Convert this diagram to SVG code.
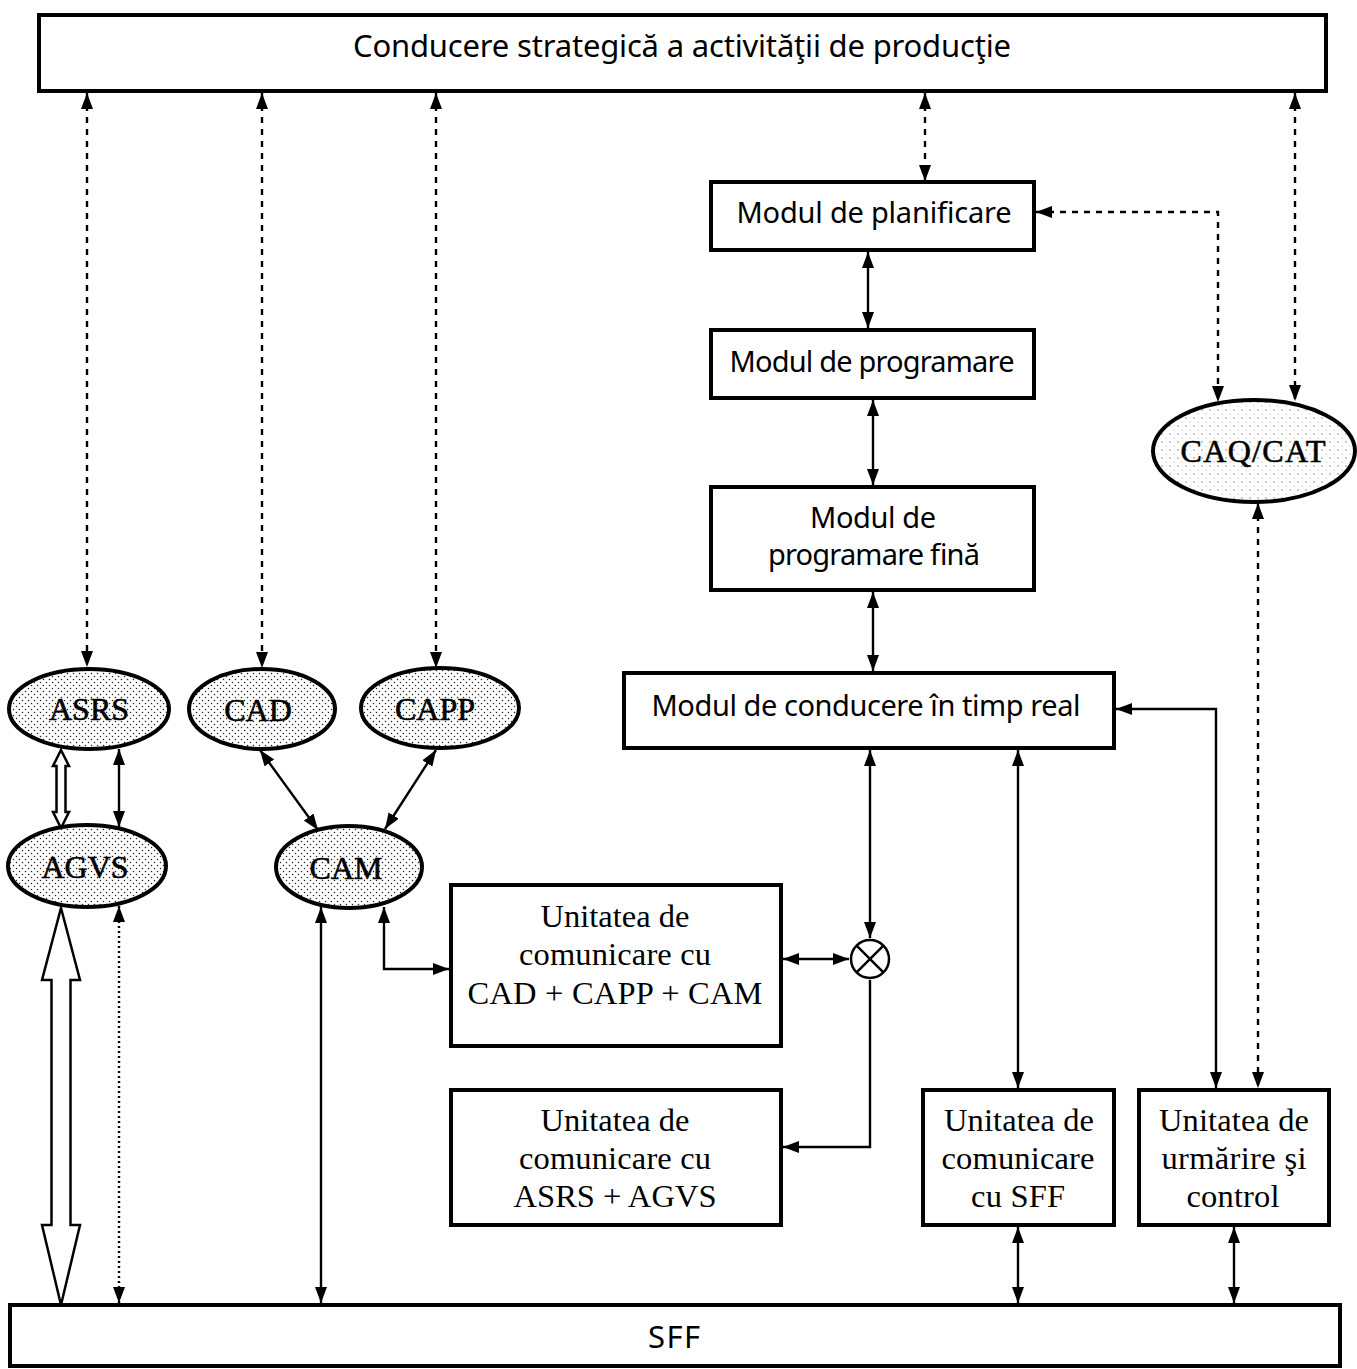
<svg xmlns="http://www.w3.org/2000/svg" width="1357" height="1369" viewBox="0 0 1357 1369">
  <style>
    .box { fill: #fff; stroke: #000; stroke-width: 4; }
    .ell { stroke: #000; stroke-width: 4; }
    .mod { font-family: "Noto Sans", "Open Sans", sans-serif; font-size: 29px; fill: #000; text-anchor: middle; }
    .big { font-size: 31px; }
    .ser { font-family: "Liberation Serif", "Times New Roman", serif; font-size: 32.5px; fill: #000; text-anchor: middle; }
    .lab { font-family: "Liberation Serif", "Times New Roman", serif; font-size: 32px; fill: #000; stroke: #000; stroke-width: 0.6; text-anchor: middle; }
    .ln { fill: none; stroke: #000; stroke-width: 2.4; }
    .dash { stroke-dasharray: 6 6; }
    .dot { stroke-dasharray: 2 3; }
    .hollow { fill: #fff; stroke: #000; stroke-width: 2.5; stroke-linejoin: miter; }
  </style>
  <defs>
    <marker id="ah" viewBox="0 0 16 12" refX="16" refY="6" markerWidth="16" markerHeight="12" markerUnits="userSpaceOnUse" orient="auto-start-reverse">
      <path d="M0,0 L16,6 L0,12 z" fill="#000"/>
    </marker>
    <pattern id="dots" width="6" height="6" patternUnits="userSpaceOnUse">
      <rect width="6" height="6" fill="#fff"/>
      <circle cx="1.5" cy="1.5" r="0.75" fill="#222"/>
      <circle cx="4.5" cy="4.5" r="0.75" fill="#222"/>
    </pattern>
    <pattern id="sparse" width="8" height="8" patternUnits="userSpaceOnUse">
      <rect width="8" height="8" fill="#fff"/>
      <circle cx="2" cy="2" r="0.8" fill="#888"/>
      <circle cx="6" cy="6" r="0.6" fill="#aaa"/>
    </pattern>
  </defs>

  <!-- connectors -->
  <g id="connectors">
    <!-- dashed links to the strategic level -->
    <line class="ln dash" x1="87" y1="93" x2="87" y2="667" marker-start="url(#ah)" marker-end="url(#ah)"/>
    <line class="ln dash" x1="262" y1="93" x2="262" y2="668" marker-start="url(#ah)" marker-end="url(#ah)"/>
    <line class="ln dash" x1="436" y1="93" x2="436" y2="668" marker-start="url(#ah)" marker-end="url(#ah)"/>
    <line class="ln dash" x1="925" y1="93" x2="925" y2="181" marker-start="url(#ah)" marker-end="url(#ah)"/>
    <line class="ln dash" x1="1295" y1="93" x2="1295" y2="401" marker-start="url(#ah)" marker-end="url(#ah)"/>
    <polyline class="ln dash" points="1036,212 1218,212 1218,402" marker-start="url(#ah)" marker-end="url(#ah)"/>
    <line class="ln dash" x1="1258" y1="503" x2="1258" y2="1088" marker-start="url(#ah)" marker-end="url(#ah)"/>

    <!-- module chain -->
    <line class="ln" x1="868" y1="252" x2="868" y2="328" marker-start="url(#ah)" marker-end="url(#ah)"/>
    <line class="ln" x1="873" y1="400" x2="873" y2="485" marker-start="url(#ah)" marker-end="url(#ah)"/>
    <line class="ln" x1="873" y1="592" x2="873" y2="671" marker-start="url(#ah)" marker-end="url(#ah)"/>
    <line class="ln" x1="870" y1="750" x2="870" y2="938" marker-start="url(#ah)" marker-end="url(#ah)"/>
    <line class="ln" x1="849" y1="959" x2="783" y2="959" marker-start="url(#ah)" marker-end="url(#ah)"/>
    <polyline class="ln" points="870,980 870,1147 783,1147" marker-end="url(#ah)"/>
    <line class="ln" x1="1018" y1="750" x2="1018" y2="1088" marker-start="url(#ah)" marker-end="url(#ah)"/>
    <polyline class="ln" points="1116,709 1216,709 1216,1088" marker-start="url(#ah)" marker-end="url(#ah)"/>
    <line class="ln" x1="1018" y1="1227" x2="1018" y2="1303" marker-start="url(#ah)" marker-end="url(#ah)"/>
    <line class="ln" x1="1234" y1="1227" x2="1234" y2="1303" marker-start="url(#ah)" marker-end="url(#ah)"/>

    <!-- CAD / CAPP / CAM links -->
    <line class="ln" x1="260" y1="750" x2="318" y2="830" marker-start="url(#ah)" marker-end="url(#ah)"/>
    <line class="ln" x1="436" y1="750" x2="385" y2="829" marker-start="url(#ah)" marker-end="url(#ah)"/>
    <polyline class="ln" points="384,907 384,969 449,969" marker-start="url(#ah)" marker-end="url(#ah)"/>
    <line class="ln" x1="321" y1="907" x2="321" y2="1303" marker-start="url(#ah)" marker-end="url(#ah)"/>

    <!-- ASRS / AGVS links -->
    <line class="ln" x1="119" y1="749" x2="119" y2="827" marker-start="url(#ah)" marker-end="url(#ah)"/>
    <line class="ln dot" x1="119" y1="906" x2="119" y2="1303" marker-start="url(#ah)" marker-end="url(#ah)"/>
    <polygon class="hollow" points="61,750 69,766 65.5,766 65.5,812 69,812 61,828 53,812 56.5,812 56.5,766 53,766"/>
    <polygon class="hollow" points="61,908 80,980 70.5,980 70.5,1225 80,1225 61,1305 42,1225 51.5,1225 51.5,980 42,980"/>
  </g>

  <!-- strategic level -->
  <g id="strategic">
    <rect class="box" x="39" y="15" width="1287" height="76"/>
    <text class="mod big" x="682" y="57" textLength="658">Conducere strategică a activităţii de producţie</text>
  </g>

  <g id="planificare">
    <rect class="box" x="711" y="182" width="323" height="68"/>
    <text class="mod" x="874" y="223" textLength="275">Modul de planificare</text>
  </g>

  <g id="programare">
    <rect class="box" x="711" y="330" width="323" height="68"/>
    <text class="mod" x="872" y="372" textLength="285">Modul de programare</text>
  </g>

  <g id="programare-fina">
    <rect class="box" x="711" y="487" width="323" height="103"/>
    <text class="mod" x="873" y="528" textLength="126">Modul de</text>
    <text class="mod" x="874" y="565" textLength="212">programare fină</text>
  </g>

  <g id="timp-real">
    <rect class="box" x="624" y="673" width="490" height="75"/>
    <text class="mod" x="866" y="716" textLength="429">Modul de conducere în timp real</text>
  </g>

  <g id="caq-cat">
    <ellipse class="ell" cx="1254" cy="451" rx="101" ry="51" fill="url(#sparse)"/>
    <text class="lab" x="1253" y="462" textLength="145">CAQ/CAT</text>
  </g>

  <g id="asrs">
    <ellipse class="ell" cx="89" cy="709" rx="80" ry="40" fill="url(#dots)"/>
    <text class="lab" x="89" y="720">ASRS</text>
  </g>

  <g id="cad">
    <ellipse class="ell" cx="262" cy="709" rx="73" ry="40" fill="url(#dots)"/>
    <text class="lab" x="258" y="721">CAD</text>
  </g>

  <g id="capp">
    <ellipse class="ell" cx="440" cy="708" rx="79" ry="40" fill="url(#dots)"/>
    <text class="lab" x="435" y="720">CAPP</text>
  </g>

  <g id="agvs">
    <ellipse class="ell" cx="87" cy="866" rx="79" ry="41" fill="url(#dots)"/>
    <text class="lab" x="85" y="878">AGVS</text>
  </g>

  <g id="cam">
    <ellipse class="ell" cx="349" cy="867" rx="73" ry="41" fill="url(#dots)"/>
    <text class="lab" x="346" y="879">CAM</text>
  </g>

  <g id="mixer">
    <circle cx="870" cy="959" r="19" fill="#fff" stroke="#000" stroke-width="2.5"/>
    <line x1="856.6" y1="945.6" x2="883.4" y2="972.4" stroke="#000" stroke-width="2.5"/>
    <line x1="883.4" y1="945.6" x2="856.6" y2="972.4" stroke="#000" stroke-width="2.5"/>
  </g>

  <g id="com-cad-capp-cam">
    <rect class="box" x="451" y="885" width="330" height="161"/>
    <text class="ser" x="615" y="927" textLength="149">Unitatea de</text>
    <text class="ser" x="615" y="965" textLength="192">comunicare cu</text>
    <text class="ser" x="615" y="1004" textLength="295">CAD + CAPP + CAM</text>
  </g>

  <g id="com-asrs-agvs">
    <rect class="box" x="451" y="1090" width="330" height="135"/>
    <text class="ser" x="615" y="1131" textLength="149">Unitatea de</text>
    <text class="ser" x="615" y="1169" textLength="192">comunicare cu</text>
    <text class="ser" x="615" y="1207" textLength="203">ASRS + AGVS</text>
  </g>

  <g id="com-sff">
    <rect class="box" x="923" y="1090" width="191" height="135"/>
    <text class="ser" x="1019" y="1131" textLength="150">Unitatea de</text>
    <text class="ser" x="1018" y="1169" textLength="153">comunicare</text>
    <text class="ser" x="1018" y="1207" textLength="94">cu SFF</text>
  </g>

  <g id="urmarire">
    <rect class="box" x="1139" y="1090" width="190" height="135"/>
    <text class="ser" x="1234" y="1131" textLength="150">Unitatea de</text>
    <text class="ser" x="1234" y="1169" textLength="145">urmărire şi</text>
    <text class="ser" x="1233" y="1207" textLength="93">control</text>
  </g>

  <g id="sff">
    <rect class="box" x="10" y="1305" width="1330" height="61"/>
    <text class="mod big" x="674" y="1348" textLength="52">SFF</text>
  </g>
</svg>
